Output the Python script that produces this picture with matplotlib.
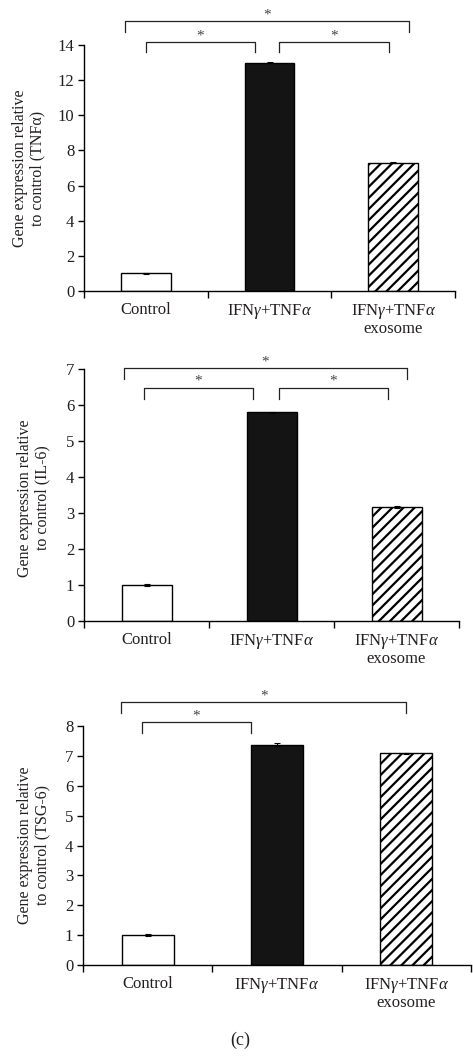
import matplotlib
matplotlib.use("Agg")
import matplotlib.pyplot as plt

plt.rcParams['font.family'] = ['Liberation Serif', 'DejaVu Serif']
plt.rcParams['mathtext.fontset'] = 'custom'
plt.rcParams['mathtext.rm'] = 'Liberation Serif'
plt.rcParams['mathtext.it'] = 'Liberation Serif:italic'
plt.rcParams['hatch.linewidth'] = 1.6

TXT = '#231f20'

categories = ["Control", "IFN$\\it{\\gamma}$+TNF$\\it{\\alpha}$", "IFN$\\it{\\gamma}$+TNF$\\it{\\alpha}$\nexosome"]

tnf_values = [1.0, 13.0, 7.3]
tnf_err = [0.05, 0.03, 0.03]
il6_values = [1.0, 5.8, 3.17]
il6_err = [0.02, 0.02, 0.03]
tsg_values = [1.0, 7.37, 7.08]
tsg_err = [0.03, 0.05, 0.01]

ylabels = ["Gene expression relative\nto control (TNFα)",
           "Gene expression relative\nto control (IL-6)",
           "Gene expression relative\nto control (TSG-6)"]
yticks = [list(range(0, 15, 2)), list(range(0, 8)), list(range(0, 9))]
ylims = [14, 7, 8]

# brackets: (x_left, x_right, y_bar, y_end)
brackets = [
    [(-0.17, 2.13, 15.37, 14.74), (0.0, 0.88, 14.17, 13.6), (1.08, 1.97, 14.17, 13.6)],
    [(-0.18, 2.08, 7.03, 6.72), (-0.02, 0.85, 6.49, 6.17), (1.06, 1.93, 6.49, 6.17)],
    [(-0.205, 2.0, 8.81, 8.44), (-0.045, 0.8, 8.14, 7.77)],
]

values = [tnf_values, il6_values, tsg_values]
errs = [tnf_err, il6_err, tsg_err]

fig = plt.figure(figsize=(4.73, 10.58), dpi=100)
W, H = 473, 1058
axes_px = [  # left, right, top(px), bottom(px)
    (84, 455, 45, 291),
    (84, 459, 369.3, 620.7),
    (83, 471, 726, 965),
]
ylabel_pos = [(29, 168), (34, 498), (34, 845)]

fills = ['white', '#141414', 'white']
hatches = [None, None, '///']

for i in range(3):
    l, r, t, b = axes_px[i]
    ax = fig.add_axes([l / W, 1 - b / H, (r - l) / W, (b - t) / H])
    x = list(range(3))
    for j in range(3):
        ax.bar(x[j], values[i][j], width=0.4, color=fills[j], edgecolor='black',
               linewidth=1.0, hatch=hatches[j], zorder=2)
    ax.errorbar(x, values[i], yerr=errs[i], fmt='none', ecolor='black',
                elinewidth=0.8, capsize=2.5, capthick=0.8, zorder=3)
    ax.set_xlim(-0.5, 2.5)
    ax.set_ylim(0, ylims[i])
    ax.set_yticks(yticks[i])
    ax.set_xticks(x)
    ax.set_xticklabels(categories, fontsize=12, color=TXT, linespacing=1.0)
    ax.set_xticks([-0.5, 0.5, 1.5, 2.5], minor=True)
    ax.tick_params(axis='x', which='major', length=0, pad=8)
    ax.tick_params(axis='x', which='minor', length=5, direction='out', width=1)
    ax.tick_params(axis='y', length=4, direction='out', width=1, labelsize=12,
                   pad=3, labelcolor=TXT)
    for s in ['top', 'right']:
        ax.spines[s].set_visible(False)
    for s in ['left', 'bottom']:
        ax.spines[s].set_linewidth(1.0)
    fig.text(ylabel_pos[i][0] / W, 1 - ylabel_pos[i][1] / H, ylabels[i],
             rotation=90, ha='center', va='center', fontsize=11.5,
             linespacing=1.1, color=TXT)
    for (xl, xr, yb, ye) in brackets[i]:
        ax.plot([xl, xl, xr, xr], [ye, yb, yb, ye], color='#222222', lw=0.9,
                clip_on=False, zorder=4)
        ax.annotate('*', xy=((xl + xr) / 2, yb), xytext=(0, 4.5),
                    textcoords='offset points', ha='center', va='center',
                    fontsize=11, color='#444444', annotation_clip=False)

fig.text(240 / W, 1 - 1040 / H, "(c)", ha='center', va='center', fontsize=13, color=TXT)

fig.savefig("out.png", dpi=100)
